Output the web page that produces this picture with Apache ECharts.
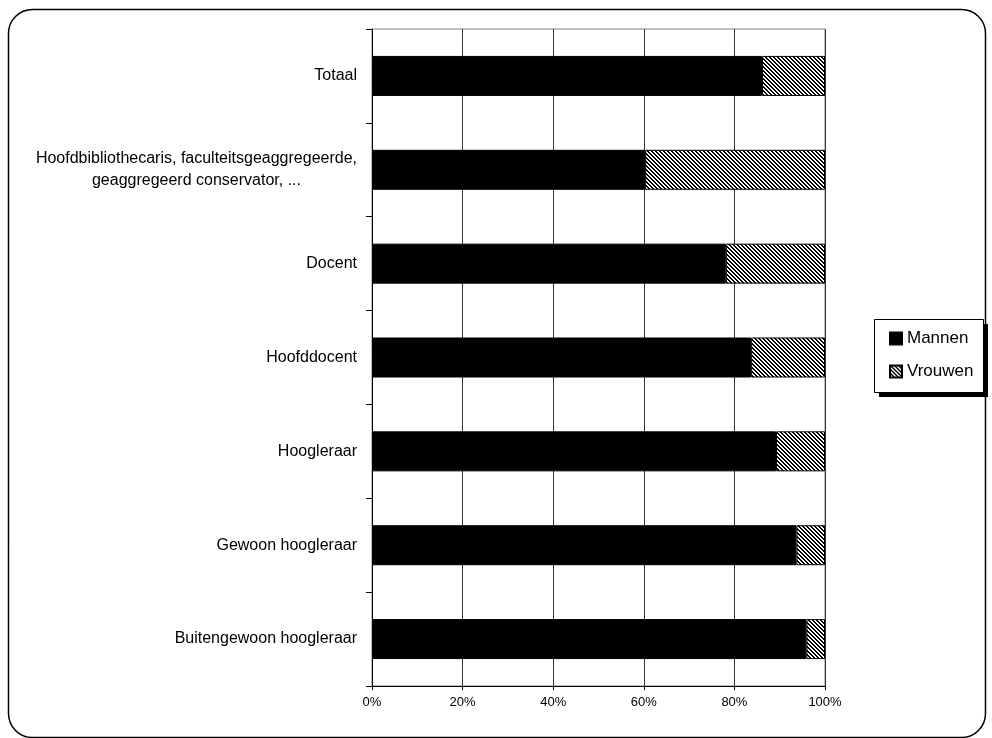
<!DOCTYPE html>
<html>
<head>
<meta charset="utf-8">
<script src="https://cdn.jsdelivr.net/npm/echarts@6/dist/echarts.min.js"></script>
<style>html,body{margin:0;padding:0;background:#fff;}#c{width:992px;height:738px;}</style>
</head>
<body>
<div id="c"></div>
<script>
const categories = [
  'Totaal',
  'Hoofdbibliothecaris, faculteitsgeaggregeerde,\ngeaggregeerd conservator, ...',
  'Docent',
  'Hoofddocent',
  'Hoogleraar',
  'Gewoon hoogleraar',
  'Buitengewoon hoogleraar'
];
const mannen = [86.1, 60.3, 78.1, 83.7, 89.2, 93.7, 95.9];
const vrouwen = [13.9, 39.7, 21.9, 16.3, 10.8, 6.3, 4.1];
const seriesNames = ['Mannen', 'Vrouwen'];

const FONT = '"Liberation Sans", Arial, sans-serif';

// hatch pattern (diagonal "\" lines)
const pc = document.createElement('canvas');
pc.width = 4; pc.height = 4;
const pctx = pc.getContext('2d');
pctx.fillStyle = '#fff';
pctx.fillRect(0, 0, 4, 4);
pctx.fillStyle = '#000';
for (let y = 0; y < 4; y++) {
  for (let x = 0; x < 4; x++) {
    if (((x - y) % 4 + 4) % 4 < 2) pctx.fillRect(x, y, 1, 1);
  }
}
const hatch = { image: pc, repeat: 'repeat' };

const chart = echarts.init(document.getElementById('c'), null, { renderer: 'canvas' });
chart.setOption({
  animation: false,
  backgroundColor: '#fff',
  textStyle: { fontFamily: FONT },
  graphic: [
    {
      type: 'rect', z: -10, silent: true,
      shape: { x: 8.5, y: 9.5, width: 977, height: 728, r: 24 },
      style: { fill: '#fff', stroke: '#000', lineWidth: 1.5 }
    },
    {
      type: 'rect', z: 5, silent: true,
      shape: { x: 879, y: 324, width: 109, height: 73 },
      style: { fill: '#000' }
    },
    {
      type: 'rect', z: 6, silent: true,
      shape: { x: 874.5, y: 319.5, width: 109, height: 73 },
      style: { fill: '#fff', stroke: '#000', lineWidth: 1 }
    }
  ],
  grid: { left: 372, right: 167, top: 29, bottom: 52, show: true, borderColor: '#808080', borderWidth: 1, backgroundColor: 'transparent' },
  legend: {
    orient: 'vertical',
    left: 889, top: 330,
    padding: 0,
    z: 10,
    icon: 'rect',
    itemWidth: 12, itemHeight: 12, itemGap: 16,
    textStyle: { fontFamily: FONT, fontSize: 17, color: '#000' },
    data: seriesNames
  },
  xAxis: {
    type: 'value', min: 0, max: 100, interval: 20,
    axisLine: { show: true, lineStyle: { color: '#000', width: 1 } },
    axisTick: { show: true, length: 4, lineStyle: { color: '#000' } },
    splitLine: { show: true, lineStyle: { color: '#333', width: 1 } },
    axisLabel: { formatter: '{value}%', fontSize: 13, color: '#000', fontFamily: FONT, margin: 10 }
  },
  yAxis: {
    type: 'category', inverse: true, data: categories,
    axisLine: { show: true, lineStyle: { color: '#000', width: 1 } },
    axisTick: { show: true, length: 6, inside: false, lineStyle: { color: '#000' } },
    axisLabel: {
      fontSize: 16, color: '#000', fontFamily: FONT, margin: 15, lineHeight: 22,
      formatter: function (v) {
        if (v.indexOf('\n') >= 0) {
          return v.split('\n').map(function (s) { return '{c|' + s + '}'; }).join('\n');
        }
        return v;
      },
      rich: { c: { align: 'center', fontSize: 16, fontFamily: FONT, color: '#000', lineHeight: 22 } }
    }
  },
  series: [
    {
      name: seriesNames[0], type: 'bar', stack: 'total', data: mannen, barWidth: 40,
      itemStyle: { color: '#000', borderColor: '#000', borderWidth: 1 }
    },
    {
      name: seriesNames[1], type: 'bar', stack: 'total', data: vrouwen, barWidth: 40,
      itemStyle: { color: hatch, borderColor: '#000', borderWidth: 1 }
    }
  ]
});
</script>
</body>
</html>
